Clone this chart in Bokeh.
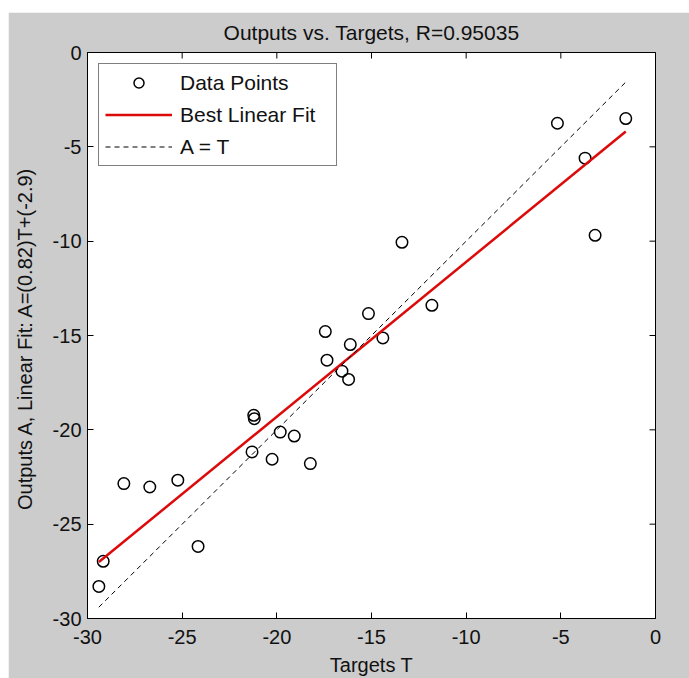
from bokeh.plotting import figure
from bokeh.models import Range1d, FixedTicker, Legend, LegendItem, Spacer
from bokeh.layouts import column, row
from bokeh.embed import file_html
from bokeh.resources import INLINE
import math

# ---- data ----
targets = [-29.40, -29.17, -28.08, -26.71, -25.23, -24.16, -21.22, -21.19, -21.31,
           -20.25, -19.82, -19.08, -18.23, -17.44, -17.35, -16.56, -16.21, -16.12,
           -15.16, -14.40, -13.39, -11.81, -5.18, -3.72, -3.19, -1.57]
outputs = [-28.30, -26.97, -22.85, -23.03, -22.67, -26.18, -19.23, -19.41, -21.17,
           -21.56, -20.12, -20.33, -21.79, -14.79, -16.31, -16.89, -17.33, -15.48,
           -13.84, -15.13, -10.06, -13.40, -3.75, -5.60, -9.69, -3.50]
fit_slope = 0.82
fit_intercept = -2.9
r_value = "0.95035"
x_ticks = [-30, -25, -20, -15, -10, -5, 0]
y_ticks = [-30, -25, -20, -15, -10, -5, 0]
x_min, x_max = -30, 0
y_min, y_max = -30, 0

FONT = "Liberation Sans"
GRAY = "#cccccc"
TXT = "#111111"

p = figure(width=681, height=666, output_backend="svg", toolbar_location=None,
           x_range=Range1d(x_min, x_max), y_range=Range1d(y_min, y_max),
           min_border_left=79, min_border_right=34, min_border_top=40, min_border_bottom=59,
           title="Outputs vs. Targets, R=" + r_value)

p.border_fill_color = GRAY
p.background_fill_color = "white"
p.outline_line_color = "black"
p.outline_line_width = 1
p.grid.visible = False

p.title.text_font = FONT
p.title.text_font_size = "21px"
p.title.text_font_style = "normal"
p.title.text_color = TXT
p.title.align = "center"
p.title.vertical_align = "top"
p.title.standoff = 14

for ax in (p.xaxis[0], p.yaxis[0]):
    ax.major_label_text_font = FONT
    ax.major_label_text_font_size = "20px"
    ax.major_label_text_color = TXT
    ax.axis_label_text_font = FONT
    ax.axis_label_text_font_size = "20px"
    ax.axis_label_text_font_style = "normal"
    ax.axis_label_text_color = TXT
    ax.major_tick_in = 6
    ax.major_tick_out = 0
    ax.minor_tick_line_color = None
    ax.axis_line_color = "black"
    ax.major_tick_line_color = "black"

p.xaxis[0].ticker = FixedTicker(ticks=x_ticks)
p.yaxis[0].ticker = FixedTicker(ticks=y_ticks)
p.xaxis[0].major_label_overrides = {t: str(t) for t in x_ticks}
p.yaxis[0].major_label_overrides = {t: str(t) for t in y_ticks}
p.xaxis[0].axis_label = "Targets T"
p.yaxis[0].axis_label = "Outputs A,  Linear Fit: A=(0.82)T+(-2.9)"
p.xaxis[0].major_label_standoff = 11
p.xaxis[0].axis_label_standoff = 7
p.yaxis[0].major_label_standoff = 6
p.yaxis[0].axis_label_standoff = 14

# inward ticks on the top and right edges of the box (clipped to the frame)
p.scatter(x=x_ticks, y=[y_max] * len(x_ticks), marker="dash", angle=math.pi / 2,
          size=12, line_color="black", line_width=1)
p.scatter(x=[x_max] * len(y_ticks), y=y_ticks, marker="dash", angle=0,
          size=12, line_color="black", line_width=1)

# data points
r_pts = p.scatter(targets, outputs, marker="circle", size=11.5, fill_color=None,
                  line_color="black", line_width=1.5)

tmin, tmax = min(targets), max(targets)
fit_x = [tmin, tmax]
fit_y = [fit_slope * t + fit_intercept for t in fit_x]
r_fit = p.line(fit_x, fit_y, line_color="#dc0a0a", line_width=2.5)
r_id = p.line(fit_x, fit_x, line_color="black", line_width=1, line_dash="5 4")

legend = Legend(items=[LegendItem(label="Data Points", renderers=[r_pts]),
                       LegendItem(label="Best Linear Fit", renderers=[r_fit]),
                       LegendItem(label="A = T", renderers=[r_id])],
                location="top_left")
legend.label_text_font = FONT
legend.label_text_font_size = "21px"
legend.label_text_color = TXT
legend.glyph_width = 67
legend.glyph_height = 25
legend.label_height = 25
legend.label_width = 150
legend.label_standoff = 8
legend.spacing = 7
legend.padding = 6
legend.margin = 11
legend.border_line_color = "black"
legend.border_line_width = 1
legend.background_fill_color = "white"
legend.background_fill_alpha = 1
p.add_layout(legend)

layout = column(Spacer(height=12), row(Spacer(width=8), p))

open("out.html", "w").write(file_html(layout, INLINE))
